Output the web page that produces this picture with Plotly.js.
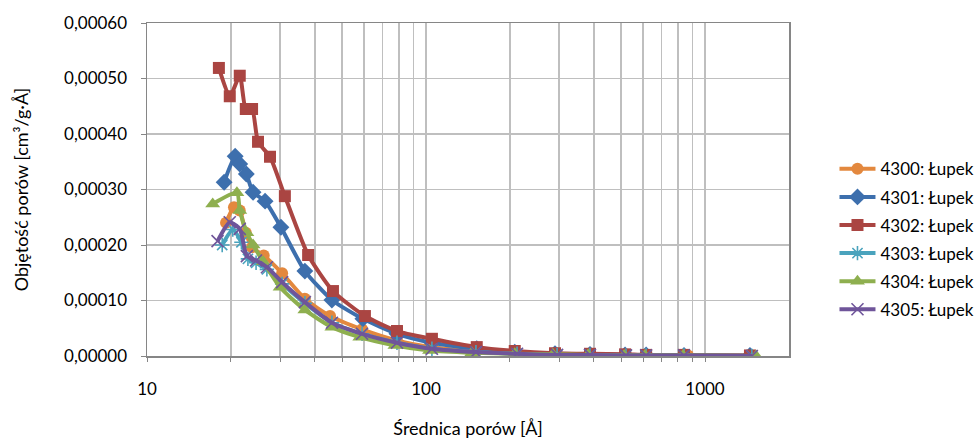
<!DOCTYPE html>
<html>
<head>
<meta charset="utf-8">
<script src="https://cdn.plot.ly/plotly-3.0.1.min.js"></script>
<style>html,body{margin:0;padding:0;background:#fff;}#chart{width:976px;height:439px;}</style>
</head>
<body>
<div id="chart"></div>
<script>
// Series names
const seriesNames = ['4300: Łupek', '4301: Łupek', '4302: Łupek', '4303: Łupek', '4304: Łupek', '4305: Łupek'];

// Pore diameters [Å] and pore volumes [cm3/g·Å] per series
const x4300 = [19.2, 20.5, 21.5, 22.6, 23.8, 26.2, 30.5, 36.8, 45.3, 59.0, 78.7, 105, 151, 212, 295, 387, 521, 615, 869];
const y4300 = [0.000240, 0.000268, 0.000262, 0.000222, 0.000196, 0.000181, 0.000149, 0.000103, 0.000072, 0.000048, 0.000028, 0.000016, 0.000009, 0.000005, 0.000003, 0.000002, 0.000002, 0.000001, 0.000001];

const x4301 = [18.9, 20.7, 21.5, 22.7, 24.0, 26.5, 30.2, 36.8, 46.0, 59.4, 78.7, 105, 152, 208, 290, 387, 517, 615, 841, 1449];
const y4301 = [0.000313, 0.000360, 0.000346, 0.000328, 0.000295, 0.000279, 0.000232, 0.000153, 0.000101, 0.000067, 0.000040, 0.000024, 0.000013, 0.000007, 0.000004, 0.000003, 0.000002, 0.000002, 0.000001, 0.000001];

const x4302 = [18.1, 19.8, 21.5, 22.6, 23.8, 25.0, 27.6, 31.2, 37.8, 46.4, 60.4, 78.7, 105, 152, 208, 290, 387, 517, 615, 841, 1449];
const y4302 = [0.000519, 0.000468, 0.000505, 0.000445, 0.000445, 0.000386, 0.000359, 0.000288, 0.000182, 0.000117, 0.000072, 0.000045, 0.000031, 0.000016, 0.000009, 0.000005, 0.000004, 0.000003, 0.000002, 0.000002, 0.000001];

const x4303 = [18.6, 20.3, 21.8, 23.0, 24.6, 26.9, 30.5, 36.8, 46.0, 59.0, 78.7, 105, 151, 212, 295, 387, 521, 615, 841, 1472];
const y4303 = [0.000200, 0.000228, 0.000205, 0.000175, 0.000168, 0.000156, 0.000130, 0.000095, 0.000060, 0.000040, 0.000024, 0.000013, 0.000007, 0.000004, 0.000002, 0.000002, 0.000001, 0.000001, 0.000001, 0.000000];

const x4304 = [17.2, 21.0, 21.5, 22.8, 24.0, 26.1, 30.0, 36.8, 46.0, 57.9, 77.4, 103, 146, 208, 285, 381, 513, 609, 834, 1524];
const y4304 = [0.000274, 0.000294, 0.000262, 0.000222, 0.000200, 0.000170, 0.000124, 0.000083, 0.000052, 0.000034, 0.000019, 0.000010, 0.000006, 0.000004, 0.000003, 0.000002, 0.000001, 0.000001, 0.000001, 0.000000];

const x4305 = [17.9, 19.8, 21.5, 22.8, 24.6, 26.9, 30.5, 36.8, 46.0, 59.0, 78.7, 105, 151, 212, 295, 387, 521, 615, 841, 1472];
const y4305 = [0.000207, 0.000241, 0.000229, 0.000180, 0.000172, 0.000160, 0.000133, 0.000097, 0.000060, 0.000040, 0.000024, 0.000013, 0.000007, 0.000004, 0.000002, 0.000002, 0.000001, 0.000001, 0.000001, 0.000000];

// Axis ticks
const xTickVals = [10, 20, 30, 40, 50, 60, 70, 80, 90, 100, 200, 300, 400, 500, 600, 700, 800, 900, 1000];
const xTickText = ['10', '', '', '', '', '', '', '', '', '100', '', '', '', '', '', '', '', '', '1000'];
const yTickVals = [0, 0.0001, 0.0002, 0.0003, 0.0004, 0.0005, 0.0006];

const xs = [x4300, x4301, x4302, x4303, x4304, x4305];
const ys = [y4300, y4301, y4302, y4303, y4304, y4305];
const colors = ['#E3883E', '#3D6FAD', '#AA4542', '#4AA3BD', '#8EAF4F', '#6F559A'];
const symbols = ['circle', 'diamond', 'square', 'asterisk-open', 'triangle-up', 'x-thin-open'];
const sizes = [12, 13, 12, 12, 13, 12];

const FONT = 'Lato, "Open Sans", sans-serif';

const traces = xs.map((xv, i) => ({
  x: xv, y: ys[i], name: seriesNames[i], type: 'scatter', mode: 'lines+markers',
  legendgroup: 'g' + i,
  line: {color: colors[i], width: 4, shape: 'spline', smoothing: 0.6},
  marker: {symbol: symbols[i], size: sizes[i], color: colors[i],
           line: {color: colors[i], width: (symbols[i].indexOf('open') >= 0 ? 1.6 : 0)}}
}));

const layout = {
  width: 976, height: 439,
  margin: {l: 147, r: 187, t: 23, b: 83, autoexpand: false},
  paper_bgcolor: '#ffffff', plot_bgcolor: '#ffffff',
  font: {family: FONT, size: 17, color: '#000'},
  separators: ', ',
  showlegend: true,
  legend: {xref: 'container', yref: 'container', x: 0.855, y: 0.455, xanchor: 'left', yanchor: 'middle',
           traceorder: 'grouped', tracegroupgap: 3,
           itemwidth: 36, font: {family: FONT, size: 17, color: '#000'}, bgcolor: 'rgba(0,0,0,0)'},
  xaxis: {
    type: 'log', range: [1, Math.log10(2000)],
    tickmode: 'array', tickvals: xTickVals, ticktext: xTickText,
    showgrid: true, gridcolor: '#BFBFBF', gridwidth: 1.3,
    showline: true, linecolor: '#868686', linewidth: 1.5, mirror: true,
    ticks: 'outside', ticklen: 4, tickcolor: '#868686', ticklabelstandoff: 13,
    zeroline: false, automargin: false,
    title: {text: 'Średnica porów [Å]', font: {family: FONT, size: 18, color: '#000'}, standoff: 32}
  },
  yaxis: {
    range: [0, 0.0006], tickmode: 'array', tickvals: yTickVals, tickformat: '.5f',
    showgrid: true, gridcolor: '#BFBFBF', gridwidth: 1.3,
    showline: true, linecolor: '#868686', linewidth: 1.5, mirror: true,
    ticks: 'outside', ticklen: 5, tickcolor: '#868686', ticklabelstandoff: 10,
    zeroline: false, automargin: false,
    title: {text: 'Objętość porów [cm³/g·Å]', font: {family: FONT, size: 18, color: '#000'}, standoff: 31}
  }
};

Plotly.newPlot('chart', traces, layout, {staticPlot: true, displayModeBar: false});
</script>
</body>
</html>
